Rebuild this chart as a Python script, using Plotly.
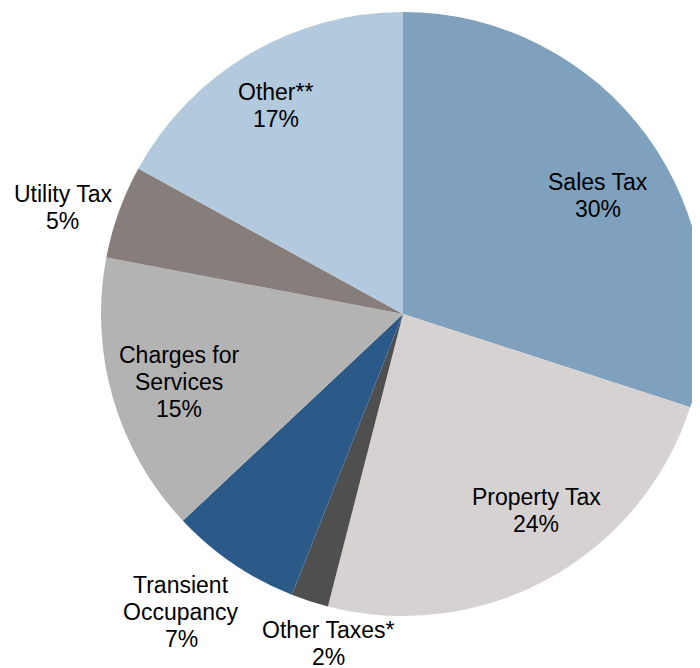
import math
import plotly.graph_objects as go

categories = ["Sales Tax", "Property Tax", "Other Taxes*", "Transient Occupancy",
              "Charges for Services", "Utility Tax", "Other**"]
label_lines = [["Sales Tax"], ["Property Tax"], ["Other Taxes*"], ["Transient", "Occupancy"],
               ["Charges for", "Services"], ["Utility Tax"], ["Other**"]]
values = [30, 24, 2, 7, 15, 5, 17]
colors = ["#7FA1BD", "#D6D2D1", "#4F4F4F", "#2C5A88", "#B3B3B3", "#877E7B", "#B3C9DD"]
# label placement (style only): fraction of radius and angular nudge in degrees
label_radius = [0.755, 0.785, 1.12, 1.23, 0.775, 1.18, 0.81]
label_angle_shift = [4.6, -5.4, -5.2, 2.5, -0.7, -2.4, -0.8]

W, H = 700, 668
cx, cy, R = 395, 306, 302
LINE = 27
FONT = dict(family="Liberation Sans, Arial, sans-serif", size=23, color="#000000")

fig = go.Figure(go.Pie(
    labels=categories, values=values, sort=False, direction="clockwise",
    rotation=0, marker=dict(colors=colors, line=dict(width=0)),
    textinfo="none", hoverinfo="label+percent", showlegend=False,
    domain=dict(x=[(cx - R) / W, (cx + R) / W], y=[(H - cy - R) / H, (H - cy + R) / H]),
))

total = sum(values)
cum = 0
annotations = []
for lines, v, rf, sh in zip(label_lines, values, label_radius, label_angle_shift):
    mid = (cum + v / 2) / total * 360 + sh
    cum += v
    a = math.radians(mid)
    px = cx + rf * R * math.sin(a)
    py = cy - rf * R * math.cos(a)
    pct = round(v / total * 100)
    all_lines = lines + [f"{pct}%"]
    n = len(all_lines)
    for i, t in enumerate(all_lines):
        ly = py + (i - (n - 1) / 2) * LINE
        annotations.append(dict(
            x=px / W, y=1 - ly / H, xref="paper", yref="paper",
            text=t, showarrow=False, xanchor="center", yanchor="middle",
            font=FONT,
        ))

fig.update_layout(
    width=W, height=H, margin=dict(l=0, r=0, t=0, b=0),
    paper_bgcolor="white", plot_bgcolor="white", annotations=annotations,
)
fig.write_html("out.html")
